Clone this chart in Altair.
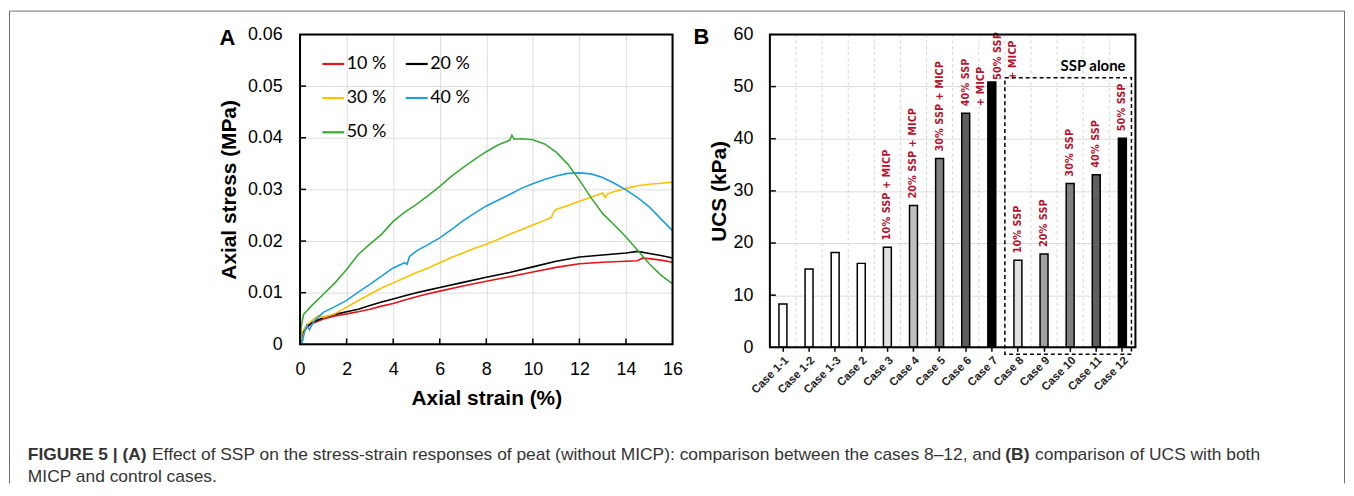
import altair as alt
import pandas as pd

# ---------------- Panel A: stress-strain curves ----------------
series_names = ["10 %", "20 %", "30 %", "40 %", "50 %"]
series_colors = ["#e3141b", "#000000", "#ffc000", "#1d9fdc", "#3aaa35"]

strain_10 = [0, 0.1, 0.3, 0.5, 1.0, 1.5, 2.0, 2.5, 3.0, 3.5, 4.0, 4.5, 5.0, 5.5, 6.0, 7.0, 8.0, 9.0,
             10.0, 11.0, 12.0, 13.0, 14.0, 14.5, 14.7, 15.0, 15.5, 16.0]
stress_10 = [0, 0.0020, 0.0033, 0.0040, 0.0049, 0.0055, 0.0059, 0.0063, 0.0068, 0.0074, 0.0079, 0.0086,
             0.0092, 0.0098, 0.0103, 0.0113, 0.0122, 0.0131, 0.0140, 0.0149, 0.0156, 0.0159, 0.0161,
             0.0162, 0.0167, 0.0166, 0.0163, 0.0159]

strain_20 = [0, 0.1, 0.3, 0.5, 1.0, 1.5, 2.0, 2.5, 3.0, 3.5, 4.0, 4.5, 5.0, 5.5, 6.0, 7.0, 8.0, 9.0,
             10.0, 11.0, 12.0, 13.0, 14.0, 14.5, 15.0, 15.5, 16.0]
stress_20 = [0, 0.0022, 0.0035, 0.0042, 0.0052, 0.0058, 0.0063, 0.0068, 0.0075, 0.0082, 0.0088, 0.0094,
             0.0100, 0.0105, 0.0110, 0.0120, 0.0130, 0.0139, 0.0150, 0.0161, 0.0169, 0.0173, 0.0177,
             0.0180, 0.0176, 0.0172, 0.0167]

strain_30 = [0, 0.1, 0.3, 0.5, 0.8, 1.0, 1.5, 2.0, 2.5, 3.0, 3.5, 4.0, 4.5, 5.0, 5.5, 6.0, 6.5, 7.0, 7.5,
             8.0, 8.5, 9.0, 9.5, 10.0, 10.5, 10.8, 10.9, 11.0, 11.5, 12.0, 12.5, 13.0, 13.1, 13.2, 13.5,
             14.0, 14.5, 15.0, 15.5, 16.0]
stress_30 = [0, 0.0025, 0.0038, 0.0046, 0.0056, 0.0052, 0.0059, 0.0072, 0.0085, 0.0097, 0.0109, 0.0119,
             0.0129, 0.0139, 0.0148, 0.0158, 0.0168, 0.0177, 0.0186, 0.0194, 0.0203, 0.0213, 0.0222,
             0.0231, 0.0240, 0.0246, 0.0257, 0.0261, 0.0269, 0.0277, 0.0285, 0.0293, 0.0284, 0.0291,
             0.0296, 0.0302, 0.0307, 0.0310, 0.0312, 0.0314]

strain_40 = [0, 0.1, 0.2, 0.3, 0.4, 0.6, 1.0, 1.5, 2.0, 2.5, 3.0, 3.5, 4.0, 4.5, 4.6, 4.7, 5.0, 5.5, 6.0,
             6.5, 7.0, 7.5, 8.0, 8.5, 9.0, 9.5, 10.0, 10.5, 11.0, 11.5, 12.0, 12.5, 13.0, 13.5, 14.0,
             14.5, 15.0, 15.5, 16.0]
stress_40 = [0, 0.0005, 0.0025, 0.0037, 0.0028, 0.0045, 0.0062, 0.0073, 0.0085, 0.0101, 0.0116, 0.0132,
             0.0148, 0.0158, 0.0155, 0.0170, 0.0181, 0.0193, 0.0206, 0.0222, 0.0239, 0.0254, 0.0268,
             0.0279, 0.0290, 0.0302, 0.0311, 0.0319, 0.0326, 0.0331, 0.0332, 0.0330, 0.0323, 0.0312,
             0.0299, 0.0284, 0.0266, 0.0243, 0.0220]

strain_50 = [0, 0.05, 0.15, 0.3, 0.5, 1.0, 1.5, 2.0, 2.5, 3.0, 3.5, 4.0, 4.5, 5.0, 5.5, 6.0, 6.5, 7.0,
             7.5, 8.0, 8.5, 9.0, 9.1, 9.2, 9.5, 10.0, 10.5, 11.0, 11.5, 12.0, 12.5, 13.0, 13.5, 14.0,
             14.5, 15.0, 15.5, 16.0]
stress_50 = [0, 0.0035, 0.0058, 0.0065, 0.0075, 0.0097, 0.0119, 0.0145, 0.0174, 0.0194, 0.0213, 0.0238,
             0.0256, 0.0271, 0.0288, 0.0306, 0.0325, 0.0342, 0.0358, 0.0373, 0.0386, 0.0395, 0.0405,
             0.0397, 0.0398, 0.0396, 0.0388, 0.0372, 0.0349, 0.0318, 0.0284, 0.0253, 0.0231, 0.0208,
             0.0182, 0.0156, 0.0134, 0.0117]

x_ticks_A = [0, 2, 4, 6, 8, 10, 12, 14, 16]
y_ticks_A = [0, 0.01, 0.02, 0.03, 0.04, 0.05, 0.06]

# ---------------- Panel B: UCS bars ----------------
cases = ["Case 1-1", "Case 1-2", "Case 1-3", "Case 2", "Case 3", "Case 4", "Case 5", "Case 6",
         "Case 7", "Case 8", "Case 9", "Case 10", "Case 11", "Case 12"]
ucs = [8.3, 15.0, 18.2, 16.1, 19.2, 27.2, 36.2, 44.9, 50.9, 16.7, 17.9, 31.4, 33.1, 40.1]
bar_fills = ["#ffffff", "#ffffff", "#ffffff", "#ffffff", "#e0e0e0", "#c0c0c0", "#808080", "#5f5f5f",
             "#000000", "#e0e0e0", "#a0a0a0", "#808080", "#5f5f5f", "#000000"]
label_cases = ["Case 3", "Case 4", "Case 5", "Case 6", "Case 8", "Case 9", "Case 10", "Case 11", "Case 12"]
label_texts = ["10% SSP + MICP", "20% SSP + MICP", "30% SSP + MICP", "40% SSP\n+ MICP",
               "10% SSP", "20% SSP", "30% SSP", "40% SSP", "50% SSP"]
label7_cases = ["Case 7"]
label7_texts = ["50% SSP\n+ MICP"]
y_ticks_B = [0, 10, 20, 30, 40, 50, 60]

# ---------------- layout constants ----------------
W_A, H_A = 375, 312
W_B, H_B = 368, 315
GAP = 98
TICK_FONT = "Lato"
GRID = "#d4d4d4"

# ---------------- build panel A ----------------
rows = []
for name, xs, ys in zip(series_names,
                        [strain_10, strain_20, strain_30, strain_40, strain_50],
                        [stress_10, stress_20, stress_30, stress_40, stress_50]):
    for xv, yv in zip(xs, ys):
        rows.append({"series": name, "strain": xv, "stress": yv})
dfA = pd.DataFrame(rows)

xsA = alt.Scale(domain=[0, 16], nice=False)
ysA = alt.Scale(domain=[0, 0.06], nice=False)

linesA = alt.Chart(dfA).mark_line(strokeWidth=1.6, clip=True).encode(
    x=alt.X("strain:Q", scale=xsA, axis=alt.Axis(
        values=x_ticks_A, title="Axial strain (%)", grid=True, ticks=False, domain=False,
        labelFlush=False, labelPadding=16, titlePadding=10, labelFontSize=18, titleFontSize=21,
        titleFontWeight="bold")),
    y=alt.Y("stress:Q", scale=ysA, axis=alt.Axis(
        values=y_ticks_A, title="Axial stress (MPa)", grid=True, ticks=False, domain=False,
        labelFlush=False, labelExpr="datum.value == 0 ? '0' : format(datum.value, '.2f')",
        labelPadding=18, titlePadding=8, labelFontSize=18, titleFontSize=21, titleFontWeight="bold")),
    color=alt.Color("series:N", scale=alt.Scale(domain=series_names, range=series_colors),
                    legend=alt.Legend(orient="none", legendX=21, legendY=17, columns=2, direction="horizontal",
                                      title=None, symbolType="stroke", symbolSize=484, symbolStrokeWidth=2.2,
                                      labelFont=TICK_FONT, labelFontSize=18, labelColor="black",
                                      labelOffset=1, columnPadding=15, rowPadding=12.5, padding=0)),
    detail="series:N",
)

tickxA = alt.Chart(pd.DataFrame({"v": x_ticks_A[1:-1]})).mark_rule(color="black", strokeWidth=1.5).encode(
    x=alt.X("v:Q", scale=xsA), y=alt.value(H_A), y2=alt.value(H_A - 6))
tickyA = alt.Chart(pd.DataFrame({"v": y_ticks_A[1:-1]})).mark_rule(color="black", strokeWidth=1.5).encode(
    y=alt.Y("v:Q", scale=ysA), x=alt.value(0), x2=alt.value(6))
one = pd.DataFrame({"a": [0]})
frameA = alt.Chart(one).mark_rect(fillOpacity=0, stroke="black", strokeWidth=2).encode(
    x=alt.value(0), x2=alt.value(W_A), y=alt.value(0), y2=alt.value(H_A))
letterA = alt.Chart(pd.DataFrame({"t": ["A"]})).mark_text(
    font="Liberation Sans", fontSize=22, fontWeight="bold", align="left", baseline="middle", color="black"
).encode(text="t:N", x=alt.value(-81), y=alt.value(3.5))

# figure border (page x 8..1352, y 8..)
BORDER = "#6e6e6e"
b_left, b_right, b_top, b_bot = -292.5, 1051.5, -23.5, 452
border_top = alt.Chart(one).mark_rule(color=BORDER, strokeWidth=1).encode(
    x=alt.value(b_left), x2=alt.value(b_right), y=alt.value(b_top))
border_left = alt.Chart(one).mark_rule(color=BORDER, strokeWidth=1).encode(
    x=alt.value(b_left), y=alt.value(b_top), y2=alt.value(b_bot))
border_right = alt.Chart(one).mark_rule(color=BORDER, strokeWidth=1).encode(
    x=alt.value(b_right), y=alt.value(b_top), y2=alt.value(b_bot))

# caption
CAP_FONT = "Liberation Sans"
CAP_SIZE = 17.5
CAP_COLOR = "#333333"
cap_y1, cap_y2 = 423, 445.5


def cap(text, x, y, bold, align="left"):
    return alt.Chart(pd.DataFrame({"t": [text]})).mark_text(
        font=CAP_FONT, fontSize=CAP_SIZE, fontWeight="bold" if bold else "normal",
        align=align, baseline="middle", color=CAP_COLOR
    ).encode(text="t:N", x=alt.value(x), y=alt.value(y))


caption = [
    cap("FIGURE 5 | (A)", -274, cap_y1, True),
    cap("Effect of SSP on the stress-strain responses of peat (without MICP): comparison between the cases 8\u201312, and",
        -149, cap_y1, False),
    cap("(B)", 710, cap_y1, True),
    cap("comparison of UCS with both", 740, cap_y1, False),
    cap("MICP and control cases.", -274, cap_y2, False),
]

panelA = alt.layer(linesA, tickxA, tickyA, frameA, letterA, border_top, border_left, border_right,
                   *caption).properties(width=W_A, height=H_A)

# ---------------- build panel B ----------------
dfB = pd.DataFrame({"case": cases, "ucs": ucs})
ucs_of = dict(zip(cases, ucs))
dfL = pd.DataFrame({"case": label_cases, "ucs": [ucs_of[c] for c in label_cases], "label": label_texts})
dfL7 = pd.DataFrame({"case": label7_cases, "ucs": [ucs_of[c] for c in label7_cases], "label": label7_texts})

xsB = alt.Scale(domain=cases, paddingInner=0, paddingOuter=0)
ysB = alt.Scale(domain=[0, 60], nice=False)

vgridB = alt.Chart(dfB).mark_rule(color=GRID, strokeWidth=1, strokeDash=[3, 3]).encode(
    x=alt.X("case:N", sort=cases, scale=xsB, bandPosition=0),
    y=alt.value(0), y2=alt.value(H_B))

bars = alt.Chart(dfB).mark_bar(size=8, stroke="black", strokeWidth=1.5).encode(
    x=alt.X("case:N", sort=cases, scale=xsB, axis=alt.Axis(
        title=None, labelAngle=-45, labelAlign="right", labelBaseline="top", labelPadding=3,
        labelFontSize=11.5, labelFontWeight="bold", labelColor="#222222", labelOverlap=False,
        ticks=True, tickSize=4, tickWidth=1.5, tickColor="black", grid=False, domain=False)),
    y=alt.Y("ucs:Q", scale=ysB, axis=alt.Axis(
        values=y_ticks_B, title="UCS (kPa)", grid=True, ticks=False, domain=False, labelFlush=False,
        labelPadding=17, titlePadding=4, labelFontSize=18, titleFontSize=21, titleFontWeight="bold")),
    fill=alt.Fill("case:N", scale=alt.Scale(domain=cases, range=bar_fills), legend=None),
)

tickyB = alt.Chart(pd.DataFrame({"v": y_ticks_B[1:-1]})).mark_rule(color="black", strokeWidth=1.5).encode(
    y=alt.Y("v:Q", scale=ysB), x=alt.value(0), x2=alt.value(6))

LABEL_FONT = "DejaVu Sans Condensed, sans-serif"
LABEL_RED = "#b5142e"
labels = alt.Chart(dfL).mark_text(
    angle=270, align="left", baseline="middle", dx=7, font=LABEL_FONT, fontSize=11,
    fontWeight="bold", color=LABEL_RED, lineBreak="\n", lineHeight=15
).encode(x=alt.X("case:N", sort=cases, scale=xsB),
         y=alt.Y("ucs:Q", scale=ysB), text="label:N")
labels7 = alt.Chart(dfL7).mark_text(
    angle=270, align="left", baseline="middle", dx=2, dy=6, font=LABEL_FONT, fontSize=11,
    fontWeight="bold", color=LABEL_RED, lineBreak="\n", lineHeight=15
).encode(x=alt.X("case:N", sort=cases, scale=xsB),
         y=alt.Y("ucs:Q", scale=ysB), text="label:N")

band = W_B / len(cases)
box_top = H_B * (1 - 51.7 / 60)
ssp_box = alt.Chart(one).mark_rect(fillOpacity=0, stroke="black", strokeWidth=1.5, strokeDash=[4, 3]).encode(
    x=alt.value(9 * band), x2=alt.value(W_B - 4), y=alt.value(box_top), y2=alt.value(H_B + 7))
ssp_text = alt.Chart(pd.DataFrame({"t": ["SSP alone"]})).mark_text(
    font=TICK_FONT, fontSize=15, fontWeight="bold", align="right", baseline="middle", color="black"
).encode(text="t:N", x=alt.value(358), y=alt.value(32))

frameB = alt.Chart(one).mark_rect(fillOpacity=0, stroke="black", strokeWidth=2).encode(
    x=alt.value(0), x2=alt.value(W_B), y=alt.value(0), y2=alt.value(H_B))
letterB = alt.Chart(pd.DataFrame({"t": ["B"]})).mark_text(
    font="Liberation Sans", fontSize=22, fontWeight="bold", align="left", baseline="middle", color="black"
).encode(text="t:N", x=alt.value(-77), y=alt.value(3))

panelB = alt.layer(vgridB, bars, tickyB, labels, labels7, ssp_box, ssp_text, frameB, letterB).properties(
    width=W_B, height=H_B)

chart = alt.hconcat(panelA, panelB, spacing=GAP, bounds="flush").resolve_scale(
    color="independent", fill="independent"
).properties(padding=0).configure_view(stroke="transparent").configure_axis(
    gridColor=GRID, gridDash=[3, 3], gridWidth=1, labelColor="black", titleColor="black",
    labelFont=TICK_FONT, titleFont=TICK_FONT
).configure(background="white")

chart.save("out.html", embed_options={"renderer": "svg", "actions": False})
